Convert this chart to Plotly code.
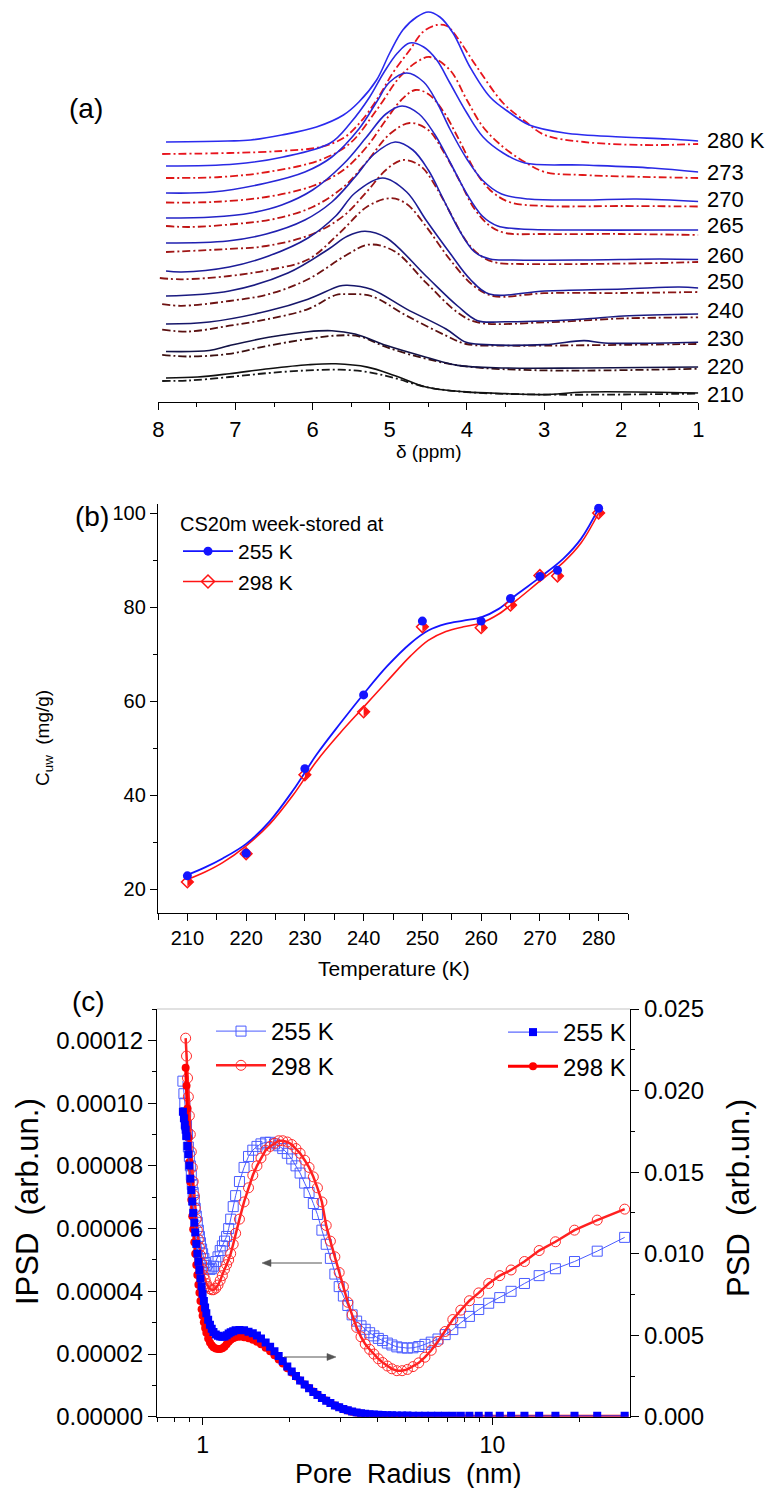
import plotly.graph_objects as go

W, H = 768, 1488
FONT = "Liberation Sans, Arial, sans-serif"

# ================= Panel (a): spectra (delta in ppm, intensity in arb. units) =================
a_labels = ["280 K", "273", "270", "265", "260", "250", "240", "230", "220", "210"]

d_280s = [7.9, 7.1, 6.8, 6.4, 5.95, 5.6, 5.4, 5.17, 5.0, 4.83, 4.65, 4.5, 4.35, 4.18, 3.96, 3.7, 3.44, 3.19, 2.73, 2.0, 1.4, 1.0]
h_280s = [260, 261, 262, 267, 275, 287, 300, 322, 349, 372, 385, 390, 385, 369, 335, 305, 289, 277, 269, 265, 263, 261]
d_280d = [7.95, 7.08, 6.4, 5.9, 5.6, 5.39, 5.17, 4.96, 4.74, 4.57, 4.39, 4.26, 4.13, 3.87, 3.53, 3.25, 2.99, 2.48, 1.71, 1.0]
h_280d = [248, 249, 251, 255, 264, 279, 302, 329, 352, 370, 377, 376, 365, 335, 299, 281, 267, 260, 257, 258]

d_273s = [7.9, 7.0, 6.38, 5.77, 5.51, 5.26, 5.08, 4.9, 4.74, 4.56, 4.39, 4.22, 4.0, 3.79, 3.53, 3.25, 2.5, 1.6, 1.0]
h_273s = [236, 238, 245, 259, 279, 305, 329, 349, 359, 355, 342, 319, 289, 265, 249, 239, 237, 234, 230]
d_273d = [7.9, 7.2, 6.58, 5.9, 5.51, 5.17, 4.87, 4.65, 4.48, 4.22, 4.0, 3.79, 3.53, 3.25, 2.99, 2.5, 1.0]
h_273d = [224, 225, 230, 242, 259, 292, 325, 340, 345, 332, 302, 275, 255, 240, 230, 227, 224]

d_270s = [7.9, 7.3, 6.6, 6.1, 5.75, 5.4, 5.17, 5.0, 4.78, 4.56, 4.39, 4.22, 4.0, 3.8, 3.55, 3.2, 2.5, 1.8, 1.0]
h_270s = [209, 210, 219, 230, 245, 273, 300, 320, 329, 320, 300, 273, 243, 222, 208, 203, 202, 203, 200.5]
d_270d = [7.9, 7.3, 6.6, 6.0, 5.6, 5.3, 5.05, 4.85, 4.67, 4.5, 4.3, 4.1, 3.9, 3.7, 3.45, 3.0, 2.0, 1.0]
h_270d = [199.5, 200, 205, 216, 232, 255, 282, 302, 312, 308, 290, 262, 232, 212, 200, 196, 196, 195.5]

d_265s = [7.9, 7.3, 6.8, 6.4, 6.0, 5.6, 5.3, 5.05, 4.84, 4.62, 4.42, 4.22, 4.0, 3.8, 3.6, 3.3, 2.5, 1.5, 1.0]
h_265s = [184, 185, 189, 197, 212, 238, 265, 288, 296, 288, 268, 240, 208, 186, 176, 173, 172, 172, 172]
d_265d = [7.9, 7.6, 7.0, 6.5, 6.0, 5.6, 5.3, 5.0, 4.74, 4.5, 4.3, 4.1, 3.9, 3.7, 3.5, 3.0, 2.0, 1.0]
h_265d = [176, 175, 178, 183, 195, 215, 240, 268, 279, 272, 250, 222, 193, 176, 169, 168, 168, 167]

d_260s = [7.9, 7.1, 6.6, 6.1, 5.75, 5.45, 5.2, 4.93, 4.7, 4.5, 4.3, 4.1, 3.9, 3.7, 3.4, 2.5, 1.5, 1.0]
h_260s = [159, 161, 168, 182, 200, 225, 248, 260, 252, 232, 202, 172, 150, 143, 142, 142, 143, 142.5]
d_260d = [7.9, 7.1, 6.6, 6.0, 5.6, 5.3, 5.05, 4.83, 4.6, 4.4, 4.2, 4.0, 3.8, 3.6, 3.3, 2.5, 1.5, 1.0]
h_260d = [150, 153, 156, 168, 186, 210, 232, 242, 236, 215, 187, 160, 145, 139, 138, 138, 139, 140]

d_250s = [7.9, 7.7, 7.08, 6.57, 6.06, 5.7, 5.45, 5.09, 4.78, 4.53, 4.22, 3.96, 3.71, 2.99, 1.97, 1.25, 1.0]
h_250s = [131, 130, 135, 146, 164, 186, 209, 224, 210, 182, 149, 123, 108, 111, 113, 115, 114]
d_250d = [7.98, 7.7, 7.08, 6.57, 6.06, 5.65, 5.29, 4.99, 4.78, 4.53, 4.22, 3.91, 3.66, 3.0, 2.0, 1.0]
h_250d = [124, 122.7, 126, 132, 142.5, 169, 195.5, 203.8, 198, 175.6, 142.5, 116, 106, 108.8, 109, 110]

d_240s = [7.9, 7.08, 6.32, 5.8, 5.55, 5.32, 5.04, 4.53, 4.12, 3.86, 3.5, 2.99, 2.48, 1.97, 1.0]
h_240s = [106, 111, 129, 152.5, 165.7, 170.7, 164, 126, 96, 81.3, 80.3, 81, 83, 86, 88]
d_240d = [7.95, 7.7, 7.08, 6.57, 6.06, 5.55, 5.27, 4.94, 4.53, 4.12, 3.86, 2.99, 1.97, 1.0]
h_240d = [97.8, 96.2, 101, 107.8, 122.7, 147.5, 157.4, 150.8, 119.4, 89.5, 79.6, 79.6, 83.6, 84.6]

d_230s = [7.9, 7.34, 6.57, 6.06, 5.65, 5.55, 5.24, 4.78, 4.27, 4.01, 3.76, 2.99, 2.48, 2.22, 1.0]
h_230s = [78, 80, 91.2, 102.8, 116, 116.7, 112.7, 92.9, 73, 59.7, 57.4, 57.4, 61.4, 59, 59.7]
d_230d = [7.95, 7.6, 7.08, 6.57, 6.06, 5.7, 5.55, 5.24, 4.78, 4.27, 4.01, 3.5, 2.99, 1.0]
h_230d = [72.3, 70.5, 76.3, 83, 92.9, 107, 107.8, 106, 86.2, 66.4, 58, 56.4, 56.4, 58]

d_220s = [7.9, 7.34, 7.08, 6.57, 6.06, 5.75, 5.45, 5.04, 4.53, 4.12, 3.5, 2.48, 1.0]
h_220s = [50.5, 51.5, 56.4, 64.7, 70.3, 71.3, 68, 56.4, 44.8, 36.6, 34, 34, 35]
d_220d = [7.95, 7.6, 7.08, 6.57, 6.06, 5.7, 5.4, 5.04, 4.53, 4.01, 2.99, 1.0]
h_220d = [47.2, 45.5, 48.2, 56.4, 63, 66.4, 65.7, 54.8, 43.2, 35.6, 31.6, 33.3]

d_210s = [7.9, 7.49, 7.08, 6.57, 6.06, 5.7, 5.29, 4.94, 4.53, 4.01, 3.5, 2.99, 2.48, 1.0]
h_210s = [24, 25, 28.3, 33.3, 37.2, 38.2, 34.9, 26.6, 15, 10.1, 8.4, 7.4, 10, 9]
d_210d = [7.95, 7.6, 7.08, 6.57, 6.06, 5.65, 5.29, 4.94, 4.53, 4.01, 2.99, 1.0]
h_210d = [21, 21.5, 25, 29, 31.6, 32.3, 30, 24, 15, 10, 7.4, 8.4]

# ================= Panel (b): C_uw vs temperature =================
b_temp = [210, 220, 230, 240, 250, 260, 265, 270, 273, 280]
b_c255 = [22.8, 27.6, 45.6, 61.3, 77.0, 77.0, 81.8, 86.5, 87.8, 101.0]
b_c298 = [21.5, 27.5, 44.3, 57.7, 75.8, 75.6, 80.4, 86.7, 86.6, 100.0]
b_fit_t = [210, 213, 216, 220, 224, 228, 232, 236, 240, 244, 248, 251, 254, 257, 260, 263, 266, 270, 274, 277, 280]
b_fit_255 = [23.0, 24.6, 26.5, 29.6, 34.4, 41.0, 48.6, 55.2, 61.5, 67.4, 72.3, 75.0, 76.4, 77.1, 77.8, 79.6, 82.6, 86.3, 90.3, 94.5, 101.0]
b_fit_298 = [22.0, 23.6, 25.6, 29.2, 33.8, 40.0, 47.2, 53.2, 58.7, 64.2, 69.6, 72.9, 74.8, 75.8, 76.6, 78.5, 81.4, 85.5, 89.5, 93.6, 100.0]

# ================= Panel (c): pore size distributions =================
c_r = [0.855, 0.862, 0.868, 0.874, 0.880, 0.887, 0.893, 0.900, 0.907, 0.914,
       0.921, 0.928, 0.936, 0.943, 0.951, 0.959, 0.967, 0.975, 0.983, 0.992,
       1.00, 1.01, 1.02, 1.03, 1.045, 1.06, 1.075, 1.09, 1.11, 1.13,
       1.15, 1.17, 1.19, 1.21, 1.23, 1.25, 1.275, 1.30, 1.34, 1.39,
       1.44, 1.49, 1.54, 1.59, 1.65, 1.71, 1.77, 1.83, 1.89, 1.96,
       2.03, 2.10, 2.17, 2.25, 2.33, 2.41, 2.49, 2.58, 2.67, 2.76,
       2.86, 2.96, 3.06, 3.17, 3.28, 3.40, 3.52, 3.64, 3.77, 3.90,
       4.04, 4.18, 4.34, 4.50, 4.68, 4.88, 5.09, 5.32, 5.57, 5.85,
       6.15, 6.49, 6.87, 7.30, 7.78, 8.33, 8.97, 9.71, 10.6, 11.6,
       12.9, 14.5, 16.5, 19.2, 23.0, 28.6]
# IPSD, units of 1e-5 (left axis)
c_ipsd255 = [10.7, 10.3, 10.0, 9.7, 9.3, 9.0, 8.6, 8.3, 8.0, 7.7,
             7.4, 7.15, 6.9, 6.65, 6.4, 6.2, 5.95, 5.75, 5.55, 5.35,
             5.2, 5.05, 4.92, 4.82, 4.74, 4.70, 4.72, 4.8, 4.95, 5.1,
             5.3, 5.45, 5.6, 5.75, 6.0, 6.3, 6.7, 7.05, 7.5, 7.95,
             8.3, 8.5, 8.62, 8.7, 8.75, 8.75, 8.7, 8.64, 8.55, 8.4,
             8.22, 8.0, 7.77, 7.45, 7.15, 6.8, 6.45, 5.95, 5.5, 5.05,
             4.55, 4.15, 3.85, 3.55, 3.25, 3.05, 2.9, 2.79, 2.68, 2.58,
             2.5, 2.43, 2.35, 2.29, 2.23, 2.2, 2.19, 2.2, 2.24, 2.31,
             2.38, 2.48, 2.62, 2.78, 3.0, 3.2, 3.42, 3.62, 3.8, 4.0,
             4.25, 4.5, 4.72, 4.95, 5.28, 5.72]
c_ipsd298 = [None, None, None, 12.07, 11.5, 10.8, 10.2, 9.6, 9.0, 8.45,
             7.95, 7.5, 7.05, 6.65, 6.3, 5.95, 5.65, 5.4, 5.15, 4.9,
             4.7, 4.5, 4.38, 4.25, 4.15, 4.08, 4.05, 4.05, 4.1, 4.2,
             4.35, 4.5, 4.7, 4.85, 5.0, 5.2, 5.5, 5.85, 6.3, 6.85,
             7.3, 7.7, 8.0, 8.25, 8.5, 8.62, 8.72, 8.8, 8.8, 8.76,
             8.68, 8.55, 8.4, 8.18, 7.95, 7.65, 7.3, 6.85, 6.1, 5.6,
             5.1, 4.6, 4.15, 3.65, 3.25, 2.85, 2.55, 2.32, 2.15, 2.0,
             1.85, 1.73, 1.62, 1.53, 1.47, 1.47, 1.51, 1.6, 1.72, 1.9,
             2.12, 2.4, 2.72, 3.1, 3.4, 3.7, 3.95, 4.25, 4.5, 4.68,
             4.95, 5.3, 5.58, 5.95, 6.27, 6.62]
# PSD, units of 1e-3 (right axis)
c_psd255 = [18.7, 18.3, 17.9, 17.6, 17.2, 16.6, 16.1, 15.4, 14.6, 13.9,
            13.2, 12.5, 11.9, 11.3, 10.6, 10.0, 9.5, 9.0, 8.5, 8.0,
            7.55, 7.1, 6.7, 6.35, 5.95, 5.65, 5.4, 5.2, 5.05, 4.97,
            4.92, 4.9, 4.93, 5.0, 5.1, 5.18, 5.25, 5.3, 5.32, 5.3,
            5.22, 5.12, 4.98, 4.8, 4.56, 4.3, 4.02, 3.72, 3.42, 3.08,
            2.78, 2.5, 2.22, 1.98, 1.75, 1.52, 1.33, 1.15, 0.98, 0.84,
            0.7, 0.58, 0.48, 0.4, 0.33, 0.27, 0.22, 0.19, 0.16, 0.14,
            0.12, 0.11, 0.1, 0.09, 0.085, 0.08, 0.075, 0.07, 0.07, 0.065,
            0.06, 0.06, 0.06, 0.06, 0.06, 0.06, 0.06, 0.06, 0.06, 0.06,
            0.06, 0.06, 0.06, 0.06, 0.06, 0.06]
c_psd298 = [None, None, None, 21.4, 20.3, 18.9, 17.1, 15.6, 14.4, 13.3,
            12.3, 11.5, 10.7, 10.0, 9.3, 8.7, 8.1, 7.6, 7.1, 6.6,
            6.2, 5.8, 5.45, 5.15, 4.8, 4.55, 4.38, 4.27, 4.19, 4.16,
            4.16, 4.2, 4.3, 4.45, 4.6, 4.72, 4.82, 4.88, 4.9, 4.88,
            4.82, 4.72, 4.6, 4.44, 4.24, 4.02, 3.78, 3.52, 3.26, 2.98,
            2.72, 2.47, 2.22, 1.98, 1.76, 1.55, 1.36, 1.17, 1.0, 0.85,
            0.7, 0.58, 0.47, 0.38, 0.31, 0.25, 0.2, 0.16, 0.13, 0.1,
            0.08, 0.07, 0.06, 0.05, 0.045, 0.04, 0.035, 0.03, 0.03, 0.03,
            0.03, 0.03, 0.03, 0.03, 0.03, 0.03, 0.03, 0.03, 0.03, 0.03,
            0.03, 0.03, 0.03, 0.03, 0.03, 0.03]


def px(p):
    return p / W


def py(p):
    return 1 - p / H


fig = go.Figure()

# ---------- panel (a) traces ----------
a_series = [
    (d_280s, h_280s, d_280d, h_280d, "#2b2bef", "#e8141e"),
    (d_273s, h_273s, d_273d, h_273d, "#2a2ae6", "#e01818"),
    (d_270s, h_270s, d_270d, h_270d, "#2828d8", "#d41414"),
    (d_265s, h_265s, d_265d, h_265d, "#2424c8", "#c01414"),
    (d_260s, h_260s, d_260d, h_260d, "#2020b0", "#a01616"),
    (d_250s, h_250s, d_250d, h_250d, "#1c1c98", "#8a1616"),
    (d_240s, h_240s, d_240d, h_240d, "#1a1a80", "#6e1212"),
    (d_230s, h_230s, d_230d, h_230d, "#16166a", "#5a1010"),
    (d_220s, h_220s, d_220d, h_220d, "#121246", "#3c1010"),
    (d_210s, h_210s, d_210d, h_210d, "#101010", "#181818"),
]
for ds, hs, dd, hd, cs, cd in a_series:
    fig.add_trace(go.Scatter(x=dd, y=hd, mode="lines", xaxis="x", yaxis="y", showlegend=False,
                             line=dict(color=cd, width=1.8, dash="8px,3px,2px,3px", shape="spline", smoothing=1.0),
                             hoverinfo="skip"))
    fig.add_trace(go.Scatter(x=ds, y=hs, mode="lines", xaxis="x", yaxis="y", showlegend=False,
                             line=dict(color=cs, width=1.6, shape="spline", smoothing=1.0),
                             hoverinfo="skip"))

# ---------- panel (b) traces ----------
BLUE_B = "#1414ff"
RED_B = "#ff1414"
fig.add_trace(go.Scatter(x=b_fit_t, y=b_fit_298, mode="lines", xaxis="x2", yaxis="y2", showlegend=False,
                         line=dict(color=RED_B, width=1.6, shape="spline", smoothing=1.0)))
fig.add_trace(go.Scatter(x=b_fit_t, y=b_fit_255, mode="lines", xaxis="x2", yaxis="y2", showlegend=False,
                         line=dict(color=BLUE_B, width=1.8, shape="spline", smoothing=1.0)))
fig.add_trace(go.Scatter(x=b_temp, y=b_c298, mode="markers", xaxis="x2", yaxis="y2", showlegend=False,
                         marker=dict(symbol="diamond-open", size=9, color=RED_B, line=dict(width=1.5))))
fig.add_trace(go.Scatter(x=b_temp, y=b_c298, mode="markers", xaxis="x2", yaxis="y2", showlegend=False,
                         marker=dict(symbol="triangle-down", size=8, color=RED_B, angle=-90, standoff=2,
                                     line=dict(width=0))))
fig.add_trace(go.Scatter(x=b_temp, y=b_c255, mode="markers", xaxis="x2", yaxis="y2", showlegend=False,
                         marker=dict(symbol="circle", size=9, color=BLUE_B)))
# legend entries for (b)
fig.add_trace(go.Scatter(x=[None], y=[None], mode="lines+markers", xaxis="x2", yaxis="y2", name="255 K",
                         legend="legend", line=dict(color=BLUE_B, width=1.8),
                         marker=dict(symbol="circle", size=9, color=BLUE_B)))
fig.add_trace(go.Scatter(x=[None], y=[None], mode="lines+markers", xaxis="x2", yaxis="y2", name="298 K",
                         legend="legend", line=dict(color=RED_B, width=1.6),
                         marker=dict(symbol="diamond-open", size=10, color=RED_B, line=dict(width=1.5))))

# ---------- panel (c) traces ----------
c_ipsd255_v = [None if v is None else v * 1e-5 for v in c_ipsd255]
c_ipsd298_v = [None if v is None else v * 1e-5 for v in c_ipsd298]
c_psd255_v = [None if v is None else v * 1e-3 for v in c_psd255]
c_psd298_v = [None if v is None else v * 1e-3 for v in c_psd298]

fig.add_trace(go.Scatter(x=c_r, y=c_ipsd255_v, mode="lines+markers", xaxis="x3", yaxis="y3", name="255 K",
                         legend="legend2", legendrank=1,
                         line=dict(color="#4a5cff", width=1),
                         marker=dict(symbol="square-open", size=10, color="#4a5cff", line=dict(width=1))))
fig.add_trace(go.Scatter(x=c_r, y=c_ipsd298_v, mode="lines+markers", xaxis="x3", yaxis="y3", name="298 K",
                         legend="legend2", legendrank=2,
                         line=dict(color="#ff2020", width=2.5),
                         marker=dict(symbol="circle-open", size=10, color="#ff2a2a", line=dict(width=1))))
fig.add_trace(go.Scatter(x=c_r, y=c_psd298_v, mode="lines+markers", xaxis="x3", yaxis="y4", name="298 K",
                         legend="legend3", legendrank=2,
                         line=dict(color="#ff0000", width=3),
                         marker=dict(symbol="circle", size=8, color="#ff0000")))
fig.add_trace(go.Scatter(x=c_r, y=c_psd255_v, mode="lines+markers", xaxis="x3", yaxis="y4", name="255 K",
                         legend="legend3", legendrank=1,
                         line=dict(color="#3344ff", width=1),
                         marker=dict(symbol="square", size=8, color="#0000ff")))

axis_common = dict(showgrid=False, zeroline=False, showline=True, linecolor="black", linewidth=1.4,
                   ticks="outside", tickcolor="black", tickwidth=1.4, automargin=False)

annotations = [
    dict(text="(a)", x=px(86), y=py(108), font=dict(size=28)),
    dict(text="(b)", x=px(92), y=py(516), font=dict(size=28)),
    dict(text="(c)", x=px(88), y=py(1001), font=dict(size=28)),
    dict(text="δ (ppm)", x=px(428), y=py(452), font=dict(size=19)),
    dict(text="Temperature (K)", x=px(394), y=py(968), font=dict(size=21)),
    dict(text="C<sub>uw</sub>  (mg/g)", x=px(44), y=py(738), textangle=-90, font=dict(size=19)),
    dict(text="IPSD  (arb.un.)", x=px(27), y=py(1202), textangle=-90, font=dict(size=31)),
    dict(text="PSD  (arb.un.)", x=px(738), y=py(1198), textangle=-90, font=dict(size=31)),
    dict(text="Pore  Radius  (nm)", x=px(408), y=py(1474), font=dict(size=27)),
]
a_label_y = [141, 172, 199, 226, 255, 282, 310, 338, 366, 394]
for lab, yy in zip(a_labels, a_label_y):
    annotations.append(dict(text=lab, x=px(705), y=py(yy), xanchor="left", font=dict(size=22)))
for a in annotations:
    a.setdefault("xref", "paper")
    a.setdefault("yref", "paper")
    a.setdefault("showarrow", False)
    a.setdefault("xanchor", "center")
    a.setdefault("yanchor", "middle")
    a["font"] = dict(family=FONT, color="black", **a["font"])

# arrows in (c) drawn as shapes
ARROW_C = "#555555"
shapes = [dict(type="line", xref="paper", yref="paper", x0=px(157), x1=px(630), y0=py(1009), y1=py(1009),
               line=dict(color="#c4c4c4", width=1.2))]


def arrow(x_tail, x_head, y):
    d = 1 if x_head > x_tail else -1
    shapes.append(dict(type="line", xref="paper", yref="paper", x0=px(x_tail), x1=px(x_head - d * 6),
                       y0=py(y), y1=py(y), line=dict(color=ARROW_C, width=1)))
    path = "M {:.5f} {:.5f} L {:.5f} {:.5f} L {:.5f} {:.5f} Z".format(
        px(x_head), py(y), px(x_head - d * 9), py(y - 3.5), px(x_head - d * 9), py(y + 3.5))
    shapes.append(dict(type="path", xref="paper", yref="paper", path=path,
                       fillcolor=ARROW_C, line=dict(color=ARROW_C, width=0.5)))


arrow(322, 262, 1263)
arrow(284, 336, 1357)

fig.update_layout(
    width=W, height=H,
    margin=dict(l=0, r=0, t=0, b=0),
    paper_bgcolor="white", plot_bgcolor="rgba(0,0,0,0)",
    font=dict(family=FONT, color="black"),
    showlegend=True,
    xaxis=dict(axis_common, domain=[px(158.3), px(698.3)], range=[8, 1], anchor="y",
               tick0=0, dtick=1, ticklen=7, tickfont=dict(size=22),
               minor=dict(ticks="outside", tick0=0, dtick=0.5, ticklen=4, tickwidth=1.2, tickcolor="black")),
    yaxis=dict(domain=[py(402), py(2)], range=[0, 400], visible=False, anchor="x"),
    xaxis2=dict(axis_common, domain=[px(158), px(628)], range=[205, 285], anchor="y2",
                tick0=0, dtick=10, ticklen=7, tickfont=dict(size=20),
                minor=dict(ticks="outside", tick0=0, dtick=5, ticklen=6, tickwidth=1.2, tickcolor="black")),
    yaxis2=dict(axis_common, domain=[py(912.5), py(503.6)], range=[15, 102], anchor="x2",
                tick0=0, dtick=20, ticklen=7, tickfont=dict(size=20),
                minor=dict(ticks="outside", tick0=0, dtick=10, ticklen=4, tickwidth=1.2, tickcolor="black")),
    xaxis3=dict(axis_common, type="log", domain=[px(157), px(630)], range=[-0.1574, 1.4748], anchor="y3",
                tickvals=[1, 10], ticktext=["1", "10"], ticklen=7, tickfont=dict(size=23),
                minor=dict(ticks="outside", tickvals=[0.7, 0.8, 0.9, 2, 3, 4, 5, 6, 7, 8, 9, 20],
                           ticklen=4, tickwidth=1.2, tickcolor="black")),
    yaxis3=dict(axis_common, domain=[py(1416.8), py(1009)], range=[0, 0.00013], anchor="x3",
                tick0=0, dtick=0.00002, tickformat=".5f", ticklen=8, tickfont=dict(size=24),
                minor=dict(ticks="outside", tick0=0, dtick=0.00001, ticklen=4, tickwidth=1.2, tickcolor="black")),
    yaxis4=dict(axis_common, overlaying="y3", side="right", range=[0, 0.025], anchor="x3",
                tick0=0, dtick=0.005, tickformat=".3f", ticklen=8, tickfont=dict(size=24),
                minor=dict(ticks="outside", tick0=0, dtick=0.0025, ticklen=4, tickwidth=1.2, tickcolor="black")),
    legend=dict(x=px(178), y=py(505), xanchor="left", yanchor="top", bgcolor="rgba(0,0,0,0)",
                font=dict(size=21, family=FONT), itemwidth=50, tracegroupgap=0,
                title=dict(text="CS20m week-stored at", font=dict(size=20, family=FONT))),
    legend2=dict(x=px(211), y=py(1009), xanchor="left", yanchor="top", bgcolor="rgba(0,0,0,0)",
                 font=dict(size=24, family=FONT), itemwidth=50, tracegroupgap=0),
    legend3=dict(x=px(631), y=py(1010), xanchor="right", yanchor="top", bgcolor="rgba(0,0,0,0)",
                 font=dict(size=24, family=FONT), itemwidth=50, tracegroupgap=0),
    annotations=annotations,
    shapes=shapes,
)

fig.write_html("out.html", include_plotlyjs=True, config={"displayModeBar": False})
